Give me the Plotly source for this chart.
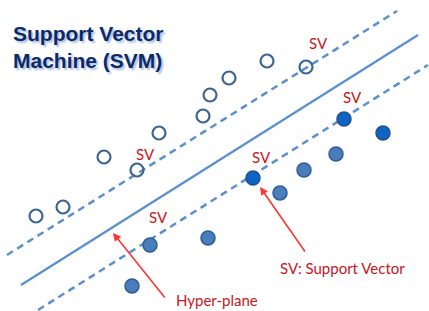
import plotly.graph_objects as go

# Open (class A) points, pixel-like coordinates
open_x = [36, 63, 104, 137, 159, 203, 210, 229, 267, 306]
open_y = [216, 207, 157, 170, 133, 116, 95, 78, 61, 67]

# Filled (class B) points
fill_x = [132, 150, 208, 280, 304, 336]
fill_y = [286, 245, 238, 193, 170, 154]

# Filled points drawn in stronger blue
sv_x = [253, 344, 383]
sv_y = [178, 119, 133]

# Hyper-plane and margins (end points)
hyper_x = [21, 418]
hyper_y = [285, 35]
upper_x = [7, 397]
upper_y = [255, 11]
lower_x = [38, 428]
lower_y = [310, 65]

# SV labels
sv_lab_x = [318, 352, 145, 261, 158]
sv_lab_y = [43, 97, 154, 157, 217]

line_col = "#5a8fd0"
red_txt = "#c8161d"
red_arrow = "#ff3535"

fig = go.Figure()
fig.add_trace(go.Scatter(x=upper_x, y=upper_y, mode="lines",
                         line=dict(color=line_col, width=2.5, dash="7px,5px")))
fig.add_trace(go.Scatter(x=lower_x, y=lower_y, mode="lines",
                         line=dict(color=line_col, width=2.5, dash="7px,5px")))
fig.add_trace(go.Scatter(x=hyper_x, y=hyper_y, mode="lines",
                         line=dict(color=line_col, width=2.2)))
fig.add_trace(go.Scatter(x=open_x, y=open_y, mode="markers",
                         marker=dict(symbol="circle-open", size=13, color="#3c6494",
                                     line=dict(width=2.2))))
fig.add_trace(go.Scatter(x=fill_x, y=fill_y, mode="markers",
                         marker=dict(symbol="circle", size=14, color="#4a7dbb",
                                     line=dict(color="#2e5b93", width=1.5))))
fig.add_trace(go.Scatter(x=sv_x, y=sv_y, mode="markers",
                         marker=dict(symbol="circle", size=14, color="#0e64c4",
                                     line=dict(color="#24508a", width=1.5))))

annotations = []
annotations.append(dict(x=11, y=20, xref="x", yref="y", xanchor="left", yanchor="top",
                        text="<b>Support Vector<br>Machine (SVM)</b>", showarrow=False, align="left",
                        font=dict(family="Liberation Sans, Arial", size=21, color="#0b2a68",
                                  shadow="2px 2px 2px #a9bde3")))
for x, y in zip(sv_lab_x, sv_lab_y):
    annotations.append(dict(x=x, y=y, xref="x", yref="y", text="SV", showarrow=False,
                            font=dict(family="Lato", size=15, color=red_txt)))
annotations.append(dict(x=217, y=300, xref="x", yref="y", text="Hyper-plane", showarrow=False,
                        font=dict(family="Lato", size=15, color=red_txt)))
annotations.append(dict(x=342, y=268, xref="x", yref="y", text="SV: Support Vector", showarrow=False,
                        font=dict(family="Lato", size=15, color=red_txt)))
# arrows
annotations.append(dict(x=113, y=233, ax=166, ay=299, xref="x", yref="y", axref="x", ayref="y",
                        text="", showarrow=True, arrowhead=2, arrowsize=1, arrowwidth=1.6,
                        arrowcolor=red_arrow))
annotations.append(dict(x=260, y=187, ax=306, ay=253, xref="x", yref="y", axref="x", ayref="y",
                        text="", showarrow=True, arrowhead=2, arrowsize=1, arrowwidth=1.6,
                        arrowcolor=red_arrow))

fig.update_layout(
    width=429, height=311,
    margin=dict(l=0, r=0, t=0, b=0),
    paper_bgcolor="white", plot_bgcolor="white",
    showlegend=False,
    xaxis=dict(range=[0, 429], visible=False, fixedrange=True),
    yaxis=dict(range=[311, 0], visible=False, fixedrange=True),
    annotations=annotations,
)
fig.write_html("out.html", config={"displayModeBar": False},
               post_script="document.body.style.margin='0';document.body.style.overflow='hidden';")
